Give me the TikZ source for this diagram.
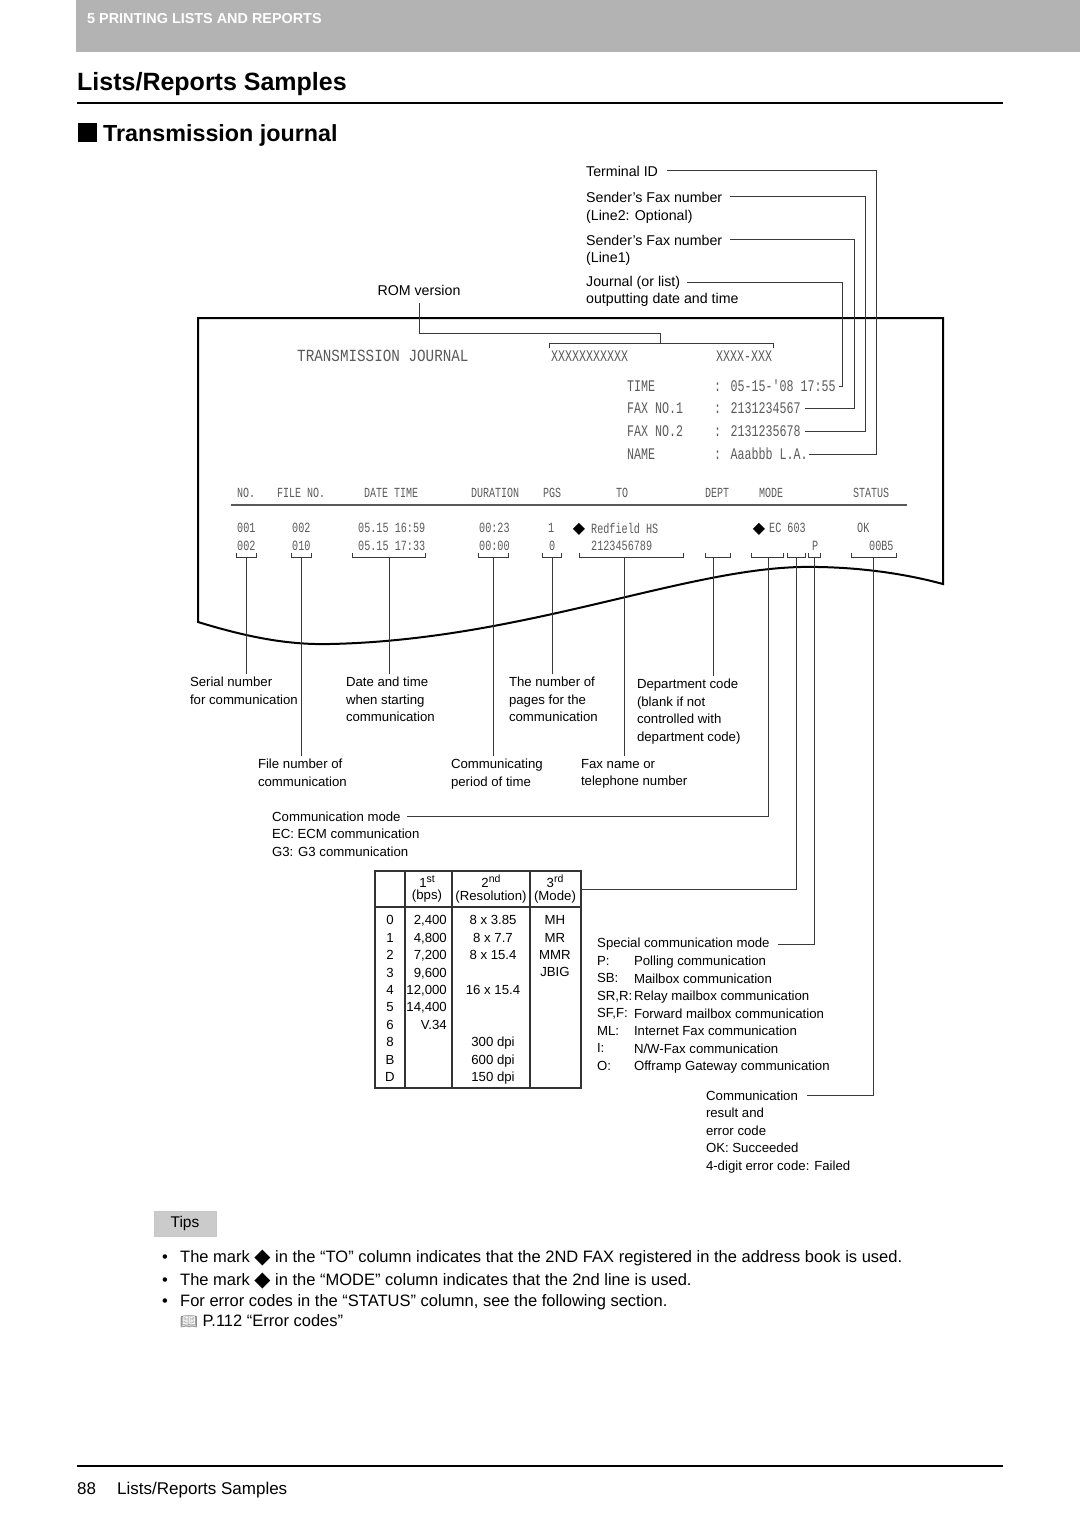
\documentclass[tikz,border=0pt]{standalone}
\usepackage{fontspec}
\setmainfont{Liberation Sans}
\newfontfamily\jmono{Liberation Mono}
\newfontfamily\dejavu{DejaVu Sans}
\newfontfamily\emojiface{Noto Emoji}
\usetikzlibrary{positioning}

\definecolor{barGray}{HTML}{B3B3B3}
\definecolor{tipGray}{HTML}{CBCBCB}
\definecolor{inkGray}{HTML}{5A5A5A}
\definecolor{leadGray}{HTML}{3A3A3A}

\newcommand{\narrowtxt}[2][0.72]{\scalebox{#1}[1]{#2}}
\newcommand{\supx}[1]{{\fontsize{10.5}{11}\selectfont\raisebox{5pt}{#1}}}

\tikzset{
  toplbl/.style={font=\fontsize{14.2}{17.5}\selectfont, inner sep=0pt, anchor=base west},
  lbl/.style={font=\fontsize{13.2}{17.5}\selectfont, inner sep=0pt, outer xsep=0pt, outer ysep=3pt, align=left, anchor=north west},
  lbl1/.style={font=\fontsize{13.2}{17.5}\selectfont, inner sep=0pt, anchor=base west},
  jtitle/.style={font=\jmono\fontsize{17}{20}\selectfont, text=inkGray, inner sep=0pt, anchor=west},
  jinfo/.style={jtitle, font=\jmono\fontsize{16.2}{18}\selectfont},
  jhead/.style={jtitle, font=\jmono\fontsize{13.9}{16}\selectfont},
  jrow/.style={jtitle, font=\jmono\fontsize{14.1}{16}\selectfont},
  diam/.style={font=\dejavu\fontsize{16}{16}\selectfont, inner sep=0pt},
  lead/.style={draw=leadGray, line width=1pt},
  tline/.style={draw=black!80, line width=1.4pt},
  thd/.style={font=\fontsize{13.2}{12.5}\selectfont, inner sep=0pt, align=center},
  tcol/.style={font=\fontsize{13.2}{17.44}\selectfont, inner sep=0pt, anchor=north},
  tip/.style={font=\fontsize{16.5}{19}\selectfont, inner sep=0pt, anchor=base west},
  tipbox/.style={draw=black!22, fill=tipGray, minimum width=62pt, minimum height=25pt, inner sep=0pt, font=\fontsize{15.5}{17}\selectfont},
}

\begin{document}
\begin{tikzpicture}[x=1pt, y=-1pt]
  \useasboundingbox (0,0) rectangle (1080,1528);

  % page head
  \fill[barGray] (76,0) rectangle (1080,52);
  \node[inner sep=0pt, anchor=base west, text=white, font=\bfseries\fontsize{14.4}{16}\selectfont] (chap) at (87,24) {5 PRINTING LISTS AND REPORTS};
  \node[inner sep=0pt, anchor=base west, font=\bfseries\fontsize{25}{30}\selectfont] (title) at (77,90) {Lists/Reports Samples};
  \draw[line width=2pt] (77,102.5) -- (1003,102.5);
  \fill (78,123) rectangle (97,142);
  \node[inner sep=0pt, anchor=base west, font=\bfseries\fontsize{23.3}{28}\selectfont] (sect) at (103,141.5) {Transmission journal};

  % callouts above the paper
  \node[toplbl] (tid)  at (586,176) {Terminal ID};
  \node[toplbl] (sf2)  at (586,202) {Sender’s Fax number};
  \node[toplbl] (sf2b) at ([shift={(0,18)}] sf2.base west) {(Line2: Optional)};
  \node[toplbl] (sf1)  at (586,245) {Sender’s Fax number};
  \node[toplbl] (sf1b) at ([shift={(0,17)}] sf1.base west) {(Line1)};
  \node[toplbl] (jrn)  at (586,286) {Journal (or list)};
  \node[toplbl] (jrnb) at ([shift={(0,17)}] jrn.base west) {outputting date and time};
  \node[toplbl, anchor=base] (rom) at (419,295) {ROM version};

  % the printed journal
  \draw[line width=2pt] (198,622) -- (198,318) -- (943,318) -- (943,584)
    .. controls (910,575) and (860,566) .. (800,567)
    .. controls (680,570) and (520,640) .. (330,644)
    .. controls (290,645) and (250,638) .. (198,622) -- cycle;

  \node[jtitle] (jt)    at (297,356) {\narrowtxt[0.84]{TRANSMISSION JOURNAL}};
  \node[jinfo]  (rom1)  at (551,356) {\narrowtxt{XXXXXXXXXXX}};
  \node[jinfo]  (rom2)  at (716,356) {\narrowtxt{XXXX-XXX}};
  \node[jinfo]  (kTime) at (627,386) {\narrowtxt{TIME}};
  \node[jinfo]  (kFax1) at (627,408) {\narrowtxt{FAX NO.1}};
  \node[jinfo]  (kFax2) at (627,431) {\narrowtxt{FAX NO.2}};
  \node[jinfo]  (kName) at (627,454) {\narrowtxt{NAME}};
  \node[jinfo]  (vTime) at (714,386) {\narrowtxt{: 05-15-\textquotesingle08 17:55}};
  \node[jinfo]  (vFax1) at (714,408) {\narrowtxt{: 2131234567}};
  \node[jinfo]  (vFax2) at (714,431) {\narrowtxt{: 2131235678}};
  \node[jinfo]  (vName) at (714,454) {\narrowtxt{: Aaabbb L.A.}};

  \node[jhead] (hNo)   at (237,493) {\narrowtxt{NO.}};
  \node[jhead] (hFile) at (277,493) {\narrowtxt{FILE NO.}};
  \node[jhead] (hDate) at (364,493) {\narrowtxt{DATE TIME}};
  \node[jhead] (hDur)  at (471,493) {\narrowtxt{DURATION}};
  \node[jhead] (hPgs)  at (543,493) {\narrowtxt{PGS}};
  \node[jhead] (hTo)   at (616,493) {\narrowtxt{TO}};
  \node[jhead] (hDept) at (705,493) {\narrowtxt{DEPT}};
  \node[jhead] (hMode) at (759,493) {\narrowtxt{MODE}};
  \node[jhead] (hStat) at (853,493) {\narrowtxt{STATUS}};
  \draw[draw=black!65, line width=1.2pt] (231,505) -- (907,505);

  \node[jrow] (n1) at (237,528) {\narrowtxt{001}};
  \node[jrow] (f1) at (292,528) {\narrowtxt{002}};
  \node[jrow] (d1) at (358,528) {\narrowtxt{05.15 16:59}};
  \node[jrow] (u1) at (479,528) {\narrowtxt{00:23}};
  \node[jrow] (p1) at (548,528) {\narrowtxt{1}};
  \node[diam] (dTo) at (579,529.5) {◆};
  \node[jrow] (t1) at (591,528) {\narrowtxt{Redfield HS}};
  \node[diam] (dMode) at (759,529.5) {◆};
  \node[jrow] (m1) at (769,528) {\narrowtxt{EC 603}};
  \node[jrow] (s1) at (857,528) {\narrowtxt{OK}};
  \node[jrow] (n2) at (237,546) {\narrowtxt{002}};
  \node[jrow] (f2) at (292,546) {\narrowtxt{010}};
  \node[jrow] (d2) at (358,546) {\narrowtxt{05.15 17:33}};
  \node[jrow] (u2) at (479,546) {\narrowtxt{00:00}};
  \node[jrow] (p2) at (549,546) {\narrowtxt{0}};
  \node[jrow] (t2) at (591,546) {\narrowtxt{2123456789}};
  \node[jrow] (m2) at (812,546) {\narrowtxt{P}};
  \node[jrow] (s2) at (869,546) {\narrowtxt{00B5}};

  % brackets under the fields
  \draw[lead] (549,348) |- (773,343) -- (773,348);
  \draw[lead] (236,553) |- (256,557) -- (256,553);
  \draw[lead] (291,553) |- (311,557) -- (311,553);
  \draw[lead] (352,553) |- (425,557) -- (425,553);
  \draw[lead] (478,553) |- (508,557) -- (508,553);
  \draw[lead] (542,553) |- (561,557) -- (561,553);
  \draw[lead] (579,553) |- (683,557) -- (683,553);
  \draw[lead] (705,553) |- (730,557) -- (730,553);
  \draw[lead] (751,553) |- (783,557) -- (783,553);
  \draw[lead] (787,553) |- (805,557) -- (805,553);
  \draw[lead] (808,553) |- (820,557) -- (820,553);
  \draw[lead] (851,553) |- (896,557) -- (896,553);
  \coordinate (bRom)  at (660,343);
  \coordinate (bNo)   at (246,557);
  \coordinate (bFile) at (301,557);
  \coordinate (bDate) at (389,557);
  \coordinate (bDur)  at (493,557);
  \coordinate (bPgs)  at (552,557);
  \coordinate (bTo)   at (624,557);
  \coordinate (bDept) at (713,557);
  \coordinate (bMode) at (768,557);
  \coordinate (bRes)  at (796,557);
  \coordinate (bSpec) at (814,557);
  \coordinate (bStat) at (873,557);

  % upper connectors
  \coordinate (kRom) at (660,333);
  \coordinate (rTid) at (876,300);
  \coordinate (rSf2) at (865,300);
  \coordinate (rSf1) at (854,300);
  \coordinate (rJrn) at (842,330);
  \draw[lead] ([yshift=-8pt]rom.south) |- (kRom) -- (bRom);
  \draw[lead] ([xshift=9pt]tid.east) -| (rTid) |- ([xshift=1pt]vName.east);
  \draw[lead] ([xshift=8pt]sf2.east) -| (rSf2) |- ([xshift=4pt]vFax2.east);
  \draw[lead] ([xshift=8pt]sf1.east) -| (rSf1) |- ([xshift=4pt]vFax1.east);
  \draw[lead] ([xshift=7pt]jrn.east) -| (rJrn) |- ([xshift=3pt]vTime.east);

  % labels below the paper
  \node[lbl] (serial)  at (190,674) {Serial number\\for communication};
  \node[lbl] (datetm)  at (346,674) {Date and time\\when starting\\communication};
  \node[lbl] (numpg)   at (509,674) {The number of\\pages for the\\communication};
  \node[lbl] (dept)    at (637,676) {Department code\\(blank if not\\controlled with\\department code)};
  \node[lbl] (fileno)  at (258,756) {File number of\\communication};
  \node[lbl] (commper) at (451,756) {Communicating\\period of time};
  \node[lbl] (faxname) at (581,756) {Fax name or\\telephone number};
  \node[lbl1] (cmode)  at (272,821.7) {Communication mode};
  \node[lbl]  (cmodeb) at (272,826) {EC: ECM communication\\G3: G3 communication};

  \draw[lead] (bNo)   -- (bNo   |- serial.north);
  \draw[lead] (bFile) -- (bFile |- fileno.north);
  \draw[lead] (bDate) -- (bDate |- datetm.north);
  \draw[lead] (bDur)  -- (bDur  |- commper.north);
  \draw[lead] (bPgs)  -- (bPgs  |- numpg.north);
  \draw[lead] (bTo)   -- (bTo   |- faxname.north);
  \draw[lead] (bDept) -- (bDept |- dept.north);
  \draw[lead] (bMode) |- ([xshift=6pt]cmode.east);

  % code table
  \draw[tline] (375,871) rectangle (581,1088);
  \draw[tline] (405,871) -- (405,1088) (452,871) -- (452,1088) (530,871) -- (530,1088) (375,907) -- (581,907);
  \coordinate (tHead) at (581,889);
  \node[thd] (h1) at (427,889) {1\supx{st}\\(bps)};
  \node[thd] (h2) at (491,889) {2\supx{nd}\\(Resolution)};
  \node[thd] (h3) at (555,889) {3\supx{rd}\\(Mode)};
  \node[tcol, align=center] (c1) at (390,915.3) {0\\1\\2\\3\\4\\5\\6\\8\\B\\D};
  \node[tcol, align=right, anchor=north east] (c2) at (447,915.3) {2,400\\4,800\\7,200\\9,600\\12,000\\14,400\\V.34};
  \node[tcol, align=center] (c3) at (493,915.3) {8 x 3.85\\8 x 7.7\\8 x 15.4\\\mbox{}\\16 x 15.4\\\mbox{}\\\mbox{}\\300 dpi\\600 dpi\\150 dpi};
  \node[tcol, align=center] (c4) at (555,915.3) {MH\\MR\\MMR\\JBIG};
  \draw[lead] (bRes) |- (tHead);

  % special mode and result
  \node[lbl1] (scm)  at (597,947.7) {Special communication mode};
  \node[lbl]  (scmk) at (597,953) {P:\\SB:\\SR,R:\\SF,F:\\ML:\\I:\\O:};
  \node[lbl]  (scmv) at (634,953) {Polling communication\\Mailbox communication\\Relay mailbox communication\\Forward mailbox communication\\Internet Fax communication\\N/W-Fax communication\\Offramp Gateway communication};
  \node[lbl1] (cres)  at (706,1100.7) {Communication};
  \node[lbl]  (cresb) at (706,1105) {result and\\error code\\OK: Succeeded\\4-digit error code: Failed};
  \draw[lead] (bSpec) |- ([xshift=8pt]scm.east);
  \draw[lead] (bStat) |- ([xshift=9pt]cres.east);

  % tips
  \node[tipbox] (tips) at (185,1223.5) {Tips};
  \node[tip] (tip1) at (180,1262.5) {The mark {\dejavu\fontsize{21}{19}\selectfont\raisebox{-1pt}{◆}} in the “TO” column indicates that the 2ND FAX registered in the address book is used.};
  \node[tip] (tip2) at ([shift={(0,23)}] tip1.base west) {The mark {\dejavu\fontsize{21}{19}\selectfont\raisebox{-1pt}{◆}} in the “MODE” column indicates that the 2nd line is used.};
  \node[tip] (tip3) at ([shift={(0,21)}] tip2.base west) {For error codes in the “STATUS” column, see the following section.};
  \node[tip] (tip4) at ([shift={(0,20)}] tip3.base west) {{\emojiface\fontsize{14}{14}\selectfont\color{black!55}📖} P.112 “Error codes”};
  \node[tip] (dot1) at ([shift={(-18,0)}] tip1.base west) {•};
  \node[tip] (dot2) at ([shift={(-18,0)}] tip2.base west) {•};
  \node[tip] (dot3) at ([shift={(-18,0)}] tip3.base west) {•};

  % page foot
  \draw[line width=2pt] (77,1466) -- (1003,1466);
  \node[tip, font=\fontsize{17}{20}\selectfont] (pgno) at (77,1494) {88};
  \node[tip, font=\fontsize{17}{20}\selectfont] (pgtitle) at (117,1494) {Lists/Reports Samples};
\end{tikzpicture}
\end{document}
